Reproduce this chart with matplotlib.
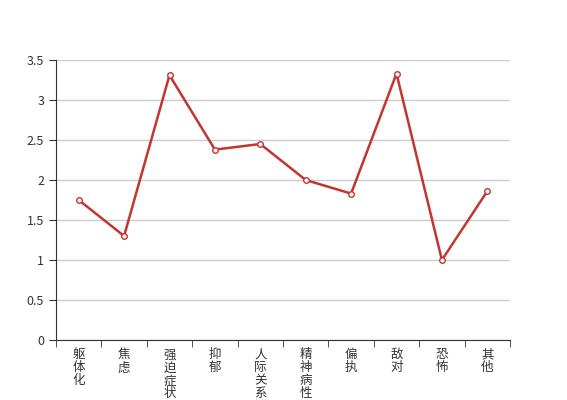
import numpy as np
import matplotlib.pyplot as plt
from matplotlib.ticker import FixedLocator

plt.rcParams['font.family'] = ['Noto Sans CJK SC', 'DejaVu Sans']

categories = ['躯体化', '焦虑', '强迫症状', '抑郁', '人际关系敏感',
              '精神病性', '偏执', '敌对', '恐怖', '其他']
values = [1.75, 1.30, 3.31, 2.38, 2.45, 2.00, 1.83, 3.33, 1.00, 1.86]

fig = plt.figure(figsize=(5.67, 4.0), dpi=100)
ax = fig.add_axes([56 / 567, 60 / 400, (510 - 56) / 567, 280 / 400])

x = np.arange(len(categories))
ax.plot(x, values, color='#c23531', lw=1.8, marker='o', ms=4,
        mfc='white', mec='#c23531', mew=1, zorder=3)

ax.set_xlim(-0.5, len(categories) - 0.5)
ax.set_ylim(0, 3.5)
ax.set_yticks(np.arange(0, 3.51, 0.5))
ax.set_yticklabels(['0', '0.5', '1', '1.5', '2', '2.5', '3', '3.5'])
ax.grid(axis='y', color='#cccccc', lw=1)
ax.set_axisbelow(True)

# vertical stacked labels; the long one runs off the bottom like the original
ax.set_xticks(x)
ax.set_xticklabels(['\n'.join(c) for c in categories], linespacing=1.0)
ax.xaxis.set_minor_locator(FixedLocator(np.arange(-0.5, len(categories), 1)))
ax.tick_params(axis='x', which='major', length=0, pad=6, labelsize=9, labelcolor='#333333')
ax.tick_params(axis='x', which='minor', length=5, color='#333333')
ax.tick_params(axis='y', length=5, color='#333333', labelsize=9, labelcolor='#333333')

for s in ['top', 'right']:
    ax.spines[s].set_visible(False)
for s in ['left', 'bottom']:
    ax.spines[s].set_color('#333333')

fig.savefig('out.png', dpi=100)
